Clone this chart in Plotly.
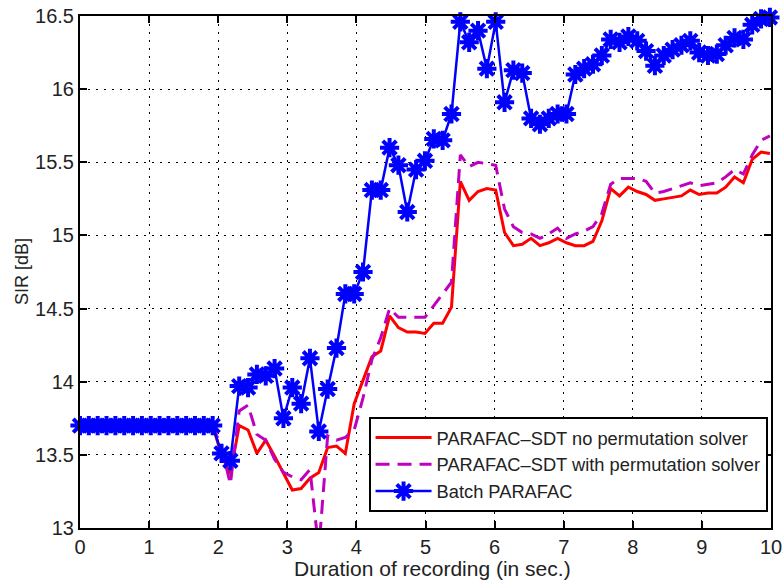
import plotly.graph_objects as go

# Time axis (seconds)
time_sec = [0, 0.128, 0.256, 0.384, 0.512, 0.64, 0.768, 0.896, 1.024, 1.152,
            1.28, 1.408, 1.536, 1.664, 1.792, 1.92, 2.048, 2.176, 2.304, 2.432,
            2.56, 2.688, 2.816, 2.944, 3.072, 3.2, 3.328, 3.456, 3.584, 3.712,
            3.84, 3.968, 4.096, 4.224, 4.352, 4.48, 4.608, 4.736, 4.864, 4.992,
            5.12, 5.248, 5.376, 5.504, 5.632, 5.76, 5.888, 6.016, 6.144, 6.272,
            6.4, 6.528, 6.656, 6.784, 6.912, 7.04, 7.168, 7.296, 7.424, 7.552,
            7.68, 7.808, 7.936, 8.064, 8.192, 8.32, 8.448, 8.576, 8.704, 8.832,
            8.96, 9.088, 9.216, 9.344, 9.472, 9.6, 9.728, 9.856, 9.984]

sdt_no_perm = [13.70, 13.70, 13.70, 13.70, 13.70, 13.70, 13.70, 13.70, 13.70, 13.70,
               13.70, 13.70, 13.70, 13.70, 13.70, 13.70, 13.50, 13.37, 13.70, 13.67,
               13.51, 13.60, 13.49, 13.38, 13.26, 13.27, 13.34, 13.38, 13.55, 13.56,
               13.51, 13.85, 14.01, 14.17, 14.21, 14.45, 14.37, 14.34, 14.34, 14.33,
               14.40, 14.40, 14.51, 15.37, 15.24, 15.30, 15.32, 15.31, 15.02, 14.93,
               14.94, 14.98, 14.93, 14.95, 14.98, 14.95, 14.93, 14.93, 14.96, 15.10,
               15.32, 15.27, 15.33, 15.30, 15.28, 15.24, 15.25, 15.26, 15.27, 15.31,
               15.28, 15.29, 15.29, 15.33, 15.40, 15.36, 15.52, 15.57, 15.56]

sdt_with_perm = [13.70, 13.70, 13.70, 13.70, 13.70, 13.70, 13.70, 13.70, 13.70, 13.70,
                 13.70, 13.70, 13.70, 13.70, 13.70, 13.70, 13.55, 13.30, 13.80, 13.84,
                 13.64, 13.60, 13.47, 13.38, 13.35, 13.33, 13.40, 12.85, 13.63, 13.60,
                 13.62, 13.67, 13.89, 14.15, 14.30, 14.50, 14.44, 14.44, 14.44, 14.44,
                 14.52, 14.60, 14.68, 15.55, 15.47, 15.50, 15.49, 15.48, 15.18, 15.06,
                 15.02, 15.01, 14.98, 15.01, 15.05, 14.98, 15.01, 15.03, 15.06, 15.15,
                 15.35, 15.39, 15.39, 15.39, 15.37, 15.29, 15.30, 15.32, 15.34, 15.36,
                 15.34, 15.35, 15.36, 15.40, 15.45, 15.42, 15.55, 15.65, 15.68]

batch_parafac = [13.70, 13.70, 13.70, 13.70, 13.70, 13.70, 13.70, 13.70, 13.70, 13.70,
                 13.70, 13.70, 13.70, 13.70, 13.70, 13.70, 13.51, 13.46, 13.97, 13.96,
                 14.05, 14.04, 14.09, 13.75, 13.96, 13.85, 14.16, 13.66, 13.95, 14.23,
                 14.60, 14.60, 14.75, 15.31, 15.31, 15.60, 15.48, 15.16, 15.45, 15.51,
                 15.66, 15.65, 15.83, 16.46, 16.32, 16.40, 16.14, 16.46, 15.91, 16.13,
                 16.11, 15.80, 15.76, 15.80, 15.83, 15.83, 16.10, 16.14, 16.17, 16.23,
                 16.34, 16.32, 16.36, 16.33, 16.26, 16.16, 16.23, 16.27, 16.30, 16.33,
                 16.25, 16.23, 16.24, 16.30, 16.35, 16.34, 16.44, 16.48, 16.49]

x_ticks = [0, 1, 2, 3, 4, 5, 6, 7, 8, 9, 10]
y_ticks = [13, 13.5, 14, 14.5, 15, 15.5, 16, 16.5]
y_tick_text = ["13", "13.5", "14", "14.5", "15", "15.5", "16", "16.5"]

names = ["PARAFAC\u2013SDT no permutation solver",
         "PARAFAC\u2013SDT with permutation solver",
         "Batch PARAFAC"]
x_title = "Duration of recording (in sec.)"
y_title = "SIR [dB]"

FONT = "Liberation Sans, Arial, Helvetica, sans-serif"
TXT = "#222"

fig = go.Figure()
fig.add_trace(go.Scatter(x=time_sec, y=sdt_no_perm, mode="lines", name=names[0],
                         line=dict(color="#ff0000", width=3)))
fig.add_trace(go.Scatter(x=time_sec, y=sdt_with_perm, mode="lines", name=names[1],
                         line=dict(color="#bf00bf", width=3, dash="14px,8px")))
fig.add_trace(go.Scatter(x=time_sec, y=batch_parafac, mode="lines+markers", name=names[2],
                         line=dict(color="#0000ff", width=2.5),
                         marker=dict(symbol="asterisk-open", size=16, color="#0000ff",
                                     line=dict(color="#0000ff", width=4)),
                         cliponaxis=False))

axis_common = dict(
    showline=True, linecolor="black", linewidth=2, mirror="ticks",
    ticks="inside", ticklen=7, tickwidth=1.5, tickcolor="black",
    showgrid=True, gridcolor="black", gridwidth=1.3, griddash="2px,6px",
    zeroline=False, automargin=False,
    tickfont=dict(family=FONT, size=20, color=TXT),
)

fig.update_xaxes(range=[0, 10], tickvals=x_ticks, **axis_common)
fig.update_yaxes(range=[13, 16.5], tickvals=y_ticks, ticktext=y_tick_text, **axis_common)

fig.update_layout(
    width=783, height=581,
    margin=dict(l=80, r=12, t=16, b=53, autoexpand=False),
    paper_bgcolor="white", plot_bgcolor="white",
    showlegend=True,
    legend=dict(x=0.995, xanchor="right", y=0.031, yanchor="bottom",
                bgcolor="white", bordercolor="black", borderwidth=2,
                font=dict(family=FONT, size=18.3, color=TXT),
                itemwidth=56, tracegroupgap=0),
    annotations=[
        dict(text=x_title, xref="paper", yref="paper", x=0.51, y=0, yshift=-40,
             xanchor="center", yanchor="middle", showarrow=False,
             font=dict(family=FONT, size=21, color=TXT)),
        dict(text=y_title, xref="paper", yref="paper", x=0, y=0.5, xshift=-58,
             xanchor="center", yanchor="middle", textangle=-90, showarrow=False,
             font=dict(family=FONT, size=18, color=TXT)),
    ],
)

fig.write_html("out.html")
